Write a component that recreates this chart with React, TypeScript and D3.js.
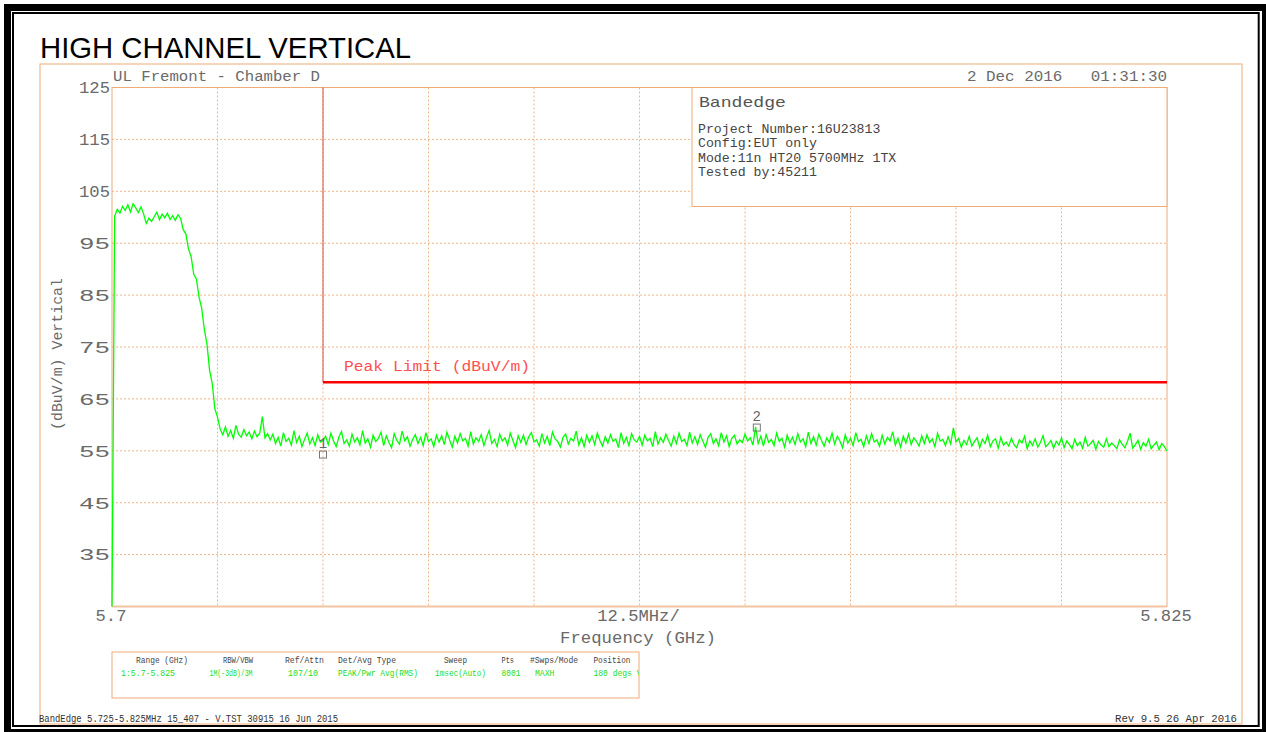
import React from "react";
import * as d3 from "d3";

// ---------- data ----------
const TITLE = "HIGH CHANNEL VERTICAL";
const F_START = 5.7;
const F_STOP = 5.825;
const REF_TOP = 125;
const REF_BOTTOM = 25;
const yTickValues = [125, 115, 105, 95, 85, 75, 65, 55, 45, 35];
const xDivisions = 10;
const xTickLabels = [
  { f: 5.7, text: "5.7" },
  { f: 5.7625, text: "12.5MHz/" },
  { f: 5.825, text: "5.825" },
];
const limitDb = 68.2;
const limitStartF = 5.725;
const limitLabel = "Peak Limit (dBuV/m)";
const markers = [
  { id: "1", f: 5.725, db: 53.6 },
  { id: "2", f: 5.7764, db: 58.8 },
];
const headerLeft = "UL Fremont - Chamber D";
const headerRight = "2 Dec 2016   01:31:30";
const xAxisTitle = "Frequency (GHz)";
const yAxisTitle = "(dBuV/m) Vertical";
const infoTitle = "Bandedge";
const infoLines = [
  "Project Number:16U23813",
  "Config:EUT only",
  "Mode:11n HT20 5700MHz 1TX",
  "Tested by:45211",
];
const legendHeaders = ["Range (GHz)", "RBW/VBW", "Ref/Attn", "Det/Avg Type", "Sweep", "Pts", "#Swps/Mode", "Position"];
const legendValues = ["1:5.7-5.825", "1M(-3dB)/3M", "107/10", "PEAK/Pwr Avg(RMS)", "1msec(Auto)", "8001", "MAXH", "180 degs V"];
const footerLeft = "BandEdge 5.725-5.825MHz 15_407 - V.TST 30915 16 Jun 2015";
const footerRight = "Rev 9.5 26 Apr 2016";

// trace amplitude (dBuV/m), evenly spaced sweep points from F_START to F_STOP
const traceDb = [
  25,
  100.2, 101.5, 100.8, 102.1, 101.3, 102.4, 101.0, 102.6, 101.8, 100.9, 102.0, 100.6, 98.8, 99.8, 99.2, 100.1, 101.0, 99.5, 100.6, 99.9, 100.8, 99.6, 100.3, 99.4, 100.5,
  99.8, 97.6, 96.8, 93.9, 92.4, 89.0, 88.1, 84.6, 82.5, 78.4, 75.6, 70.5, 68.0, 63.1, 61.5, 59.2,
  58.1, 59.6, 57.8, 58.9, 57.4, 59.9, 58.2, 57.6, 59.1, 57.9, 58.6, 57.3, 58.8, 57.7, 58.4, 61.6, 57.5, 58.3, 57.1,
  58.2, 56.4, 57.6, 55.9, 58.5, 56.8, 57.4, 56.1, 58.9, 56.6, 57.8, 55.8, 57.2, 58.4, 56.3, 57.5, 56.0, 58.1, 56.7, 57.0,
  57.8, 56.2, 58.4, 56.9, 55.8, 57.6, 58.7, 56.4, 57.1, 55.9, 58.2, 56.7, 57.5, 56.1, 58.9, 56.5, 57.3, 55.7, 58.0, 56.8,
  57.4, 58.6, 56.0, 57.9, 56.6, 55.6, 58.3, 57.0, 56.3, 58.8, 56.9, 57.7, 55.9, 57.2, 58.1, 56.4, 57.6, 56.0, 58.5, 56.8,
  57.3, 55.8, 58.0, 56.7, 57.9, 56.2, 58.6, 57.1, 55.7, 57.8, 56.5, 58.3, 56.9, 57.4, 55.9, 58.7, 56.3, 57.5, 56.8, 58.1,
  56.0, 57.6, 58.9, 56.4, 57.2, 55.8, 58.2, 56.9, 57.5, 56.1, 58.4, 57.0, 55.6, 57.9, 56.6, 58.0, 56.2, 57.7, 58.5, 56.7,
  57.1, 55.9, 58.3, 56.5, 57.8, 56.0, 58.6, 57.3, 56.8, 55.7, 57.6, 58.2, 56.3, 57.4, 56.9, 58.8, 56.1, 57.5, 55.8, 58.0,
  56.6, 57.9, 56.2, 58.4, 57.0, 55.9, 57.7, 56.5, 58.1, 56.8, 57.3, 55.6, 58.5, 56.4, 57.6, 56.0, 58.3, 57.1, 56.7, 57.8,
  56.1, 58.0, 56.9, 57.4, 55.8, 58.7, 56.3, 57.5, 56.6, 58.2, 57.0, 55.9, 57.8, 56.4, 58.4, 56.8, 57.2, 56.0, 58.6, 56.5,
  57.7, 56.2, 58.1, 56.9, 55.7, 57.6, 58.3, 56.4, 57.3, 56.0, 58.5, 56.7, 57.9, 55.8, 57.4, 58.0, 56.3, 57.1, 56.6, 58.2,
  56.9, 57.5, 56.1, 59.6, 56.4, 57.8, 55.9, 58.1, 56.6, 57.2, 56.0, 58.4, 56.8, 57.4, 55.7, 58.0, 56.5, 57.6, 56.2, 58.3,
  56.7, 57.3, 55.8, 58.6, 56.4, 57.7, 56.1, 58.2, 57.0, 55.9, 57.5, 56.6, 58.4, 56.3, 57.8, 56.9, 55.6, 58.1, 56.5, 57.4,
  56.0, 58.5, 56.8, 57.2, 55.8, 57.9, 56.4, 58.3, 56.7, 57.1, 55.9, 58.0, 56.3, 57.6, 56.9, 58.7, 56.1, 57.4, 55.7, 57.8,
  56.5, 58.2, 56.2, 57.5, 56.8, 55.9, 57.9, 56.4, 58.1, 56.6, 57.3, 55.8, 58.4, 56.9, 57.2, 56.0, 57.7, 56.3, 59.4, 56.7,
  57.4, 55.7, 57.0, 56.2, 57.8, 55.9, 56.8, 57.5, 55.6, 57.2, 56.4, 58.0, 55.8, 56.9, 57.3, 55.5, 57.6, 56.1, 56.7, 55.9,
  57.4, 56.2, 55.6, 57.1, 56.5, 57.8, 55.4, 56.9, 56.0, 57.3, 55.7, 56.6, 57.9, 55.8, 56.3, 57.0, 55.5, 56.8, 56.1, 57.5,
  55.6, 56.9, 56.2, 55.4, 57.2, 56.0, 56.7, 55.5, 57.6, 55.9, 56.4, 57.0, 55.3, 56.8, 56.1, 55.7, 57.3, 55.8, 56.5, 56.0,
  55.4, 57.1, 56.3, 55.6, 56.8, 58.4, 55.5, 56.2, 57.0, 55.3, 56.6, 55.9, 57.2, 55.4, 56.1, 56.7, 55.2, 56.4, 55.8, 55.0,
];

// ---------- layout ----------
const W = 1266;
const H = 732;
const plot = { left: 112, right: 1167, top: 87.5, bottom: 606.5 };
const ORANGE = "#efab78";
const GRID = "#f0b48a";
const GREY = "#6a6a6a";
const MONO = "'Liberation Mono', 'DejaVu Sans Mono', monospace";
const legendLayout = [
  { hx: 136, hw: 52, vx: 121, vw: 54 },
  { hx: 223, hw: 30, vx: 209.5, vw: 43 },
  { hx: 285, hw: 39, vx: 288, vw: 30 },
  { hx: 338, hw: 58, vx: 338, vw: 80 },
  { hx: 444, hw: 23, vx: 435, vw: 51 },
  { hx: 501.5, hw: 12.5, vx: 501.5, vw: 19 },
  { hx: 530, hw: 48, vx: 535, vw: 19.5 },
  { hx: 593.5, hw: 37, vx: 593.5, vw: 48 },
];

export default function App() {
  const x = d3.scaleLinear().domain([F_START, F_STOP]).range([plot.left, plot.right]);
  const y = d3.scaleLinear().domain([REF_BOTTOM, REF_TOP]).range([plot.bottom, plot.top]);
  const step = (F_STOP - F_START) / (traceDb.length - 1);
  const line = d3
    .line<number>()
    .x((_, i) => x(F_START + i * step))
    .y((d) => y(d));
  const gridF = d3.range(1, xDivisions).map((i) => F_START + (i * (F_STOP - F_START)) / xDivisions);
  const gridDb = yTickValues.filter((v) => v > REF_BOTTOM && v < REF_TOP);

  return (
    <svg
      width={W}
      height={H}
      viewBox={`0 0 ${W} ${H}`}
      style={{ position: "absolute", left: 0, top: 0, background: "#fff" }}
    >
      <defs>
        <clipPath id="legendClip">
          <rect x={112} y={652} width={527} height={46} />
        </clipPath>
      </defs>
      {/* outer frames */}
      <rect x={7.5} y={7.5} width={1258} height={725} fill="none" stroke="#000" strokeWidth={7} />
      <rect x={13} y={13} width={1245.7} height={713} fill="none" stroke="#000" strokeWidth={2} />

      {/* title */}
      <text x={40} y={57.5} fontFamily="'Liberation Sans', Arial, sans-serif" fontSize={30} fill="#000" textLength={371} lengthAdjust="spacingAndGlyphs">
        {TITLE}
      </text>

      {/* orange page frame */}
      <rect x={40} y={64} width={1202} height={660} fill="none" stroke={ORANGE} strokeWidth={1} />

      {/* grid */}
      {gridF.map((f, i) => (
        <line key={"gx" + i} x1={x(f)} x2={x(f)} y1={plot.top} y2={plot.bottom} stroke={GRID} strokeWidth={1} strokeDasharray="2,2" />
      ))}
      {gridDb.map((v) => (
        <line key={"gy" + v} x1={plot.left} x2={plot.right} y1={y(v)} y2={y(v)} stroke={GRID} strokeWidth={1} strokeDasharray="2,2" />
      ))}

      {/* plot frame */}
      <rect x={plot.left} y={plot.top} width={plot.right - plot.left} height={plot.bottom - plot.top} fill="none" stroke={ORANGE} strokeWidth={1} />
      <line x1={plot.left} x2={plot.right} y1={plot.bottom} y2={plot.bottom} stroke="#f3c4a2" strokeWidth={2} />

      {/* info box */}
      <rect x={692} y={plot.top} width={plot.right - 692} height={119} fill="#fff" stroke={ORANGE} strokeWidth={1} />
      <text x={699} y={107} fontFamily={MONO} fontSize={15} fill="#555" textLength={87} lengthAdjust="spacingAndGlyphs">
        {infoTitle}
      </text>
      {infoLines.map((t, i) => (
        <text key={t} x={698} y={133.3 + i * 14.1} fontFamily={MONO} fontSize={13.2} fill="#444" textLength={t.length * 7.93} lengthAdjust="spacingAndGlyphs">
          {t}
        </text>
      ))}

      {/* header texts */}
      <text x={113} y={80.7} fontFamily={MONO} fontSize={14} fill={GREY} textLength={207} lengthAdjust="spacingAndGlyphs">
        {headerLeft}
      </text>
      <text x={967} y={80.7} fontFamily={MONO} fontSize={14} fill={GREY} textLength={200} lengthAdjust="spacingAndGlyphs" xmlSpace="preserve" style={{ whiteSpace: "pre" }}>
        {headerRight}
      </text>

      {/* y tick labels */}
      {yTickValues.map((v) => (
        <text key={"yt" + v} x={110} y={y(v) + 5.8} textAnchor="end" fontFamily={MONO} fontSize={16.5} fill={GREY} textLength={31} lengthAdjust="spacingAndGlyphs">
          {v}
        </text>
      ))}
      {/* x tick labels */}
      {xTickLabels.map((d) => (
        <text key={d.text} x={x(d.f) - 1} y={620.8} textAnchor="middle" fontFamily={MONO} fontSize={16.5} fill={GREY} textLength={d.text.length * 10.3} lengthAdjust="spacingAndGlyphs">
          {d.text}
        </text>
      ))}
      <text x={638} y={643} textAnchor="middle" fontFamily={MONO} fontSize={16.5} fill={GREY} textLength={156} lengthAdjust="spacingAndGlyphs">
        {xAxisTitle}
      </text>
      <text transform="translate(62,354) rotate(-90)" x={0} y={0} textAnchor="middle" fontFamily={MONO} fontSize={14.5} fill={GREY} textLength={152} lengthAdjust="spacingAndGlyphs">
        {yAxisTitle}
      </text>

      {/* limit */}
      <line x1={x(limitStartF)} x2={x(limitStartF)} y1={plot.top} y2={y(limitDb)} stroke="#d84a4a" strokeWidth={1} />
      <line x1={x(limitStartF)} x2={plot.right} y1={y(limitDb)} y2={y(limitDb)} stroke="#ff0000" strokeWidth={2.5} />
      <text x={344} y={370.7} fontFamily={MONO} fontSize={15.5} fill="#ff5050" textLength={186} lengthAdjust="spacingAndGlyphs">
        {limitLabel}
      </text>

      {/* trace */}
      <path d={line(traceDb) || ""} fill="none" stroke="#00ff00" strokeWidth={1.3} strokeLinejoin="miter" />

      {/* markers */}
      {markers.map((m) => (
        <g key={m.id}>
          <rect x={x(m.f) - 3.5} y={y(m.db) - 7} width={7} height={7} fill="none" stroke="#777" strokeWidth={1} />
          <text x={x(m.f)} y={y(m.db) - 10} textAnchor="middle" fontFamily={MONO} fontSize={14} fill="#666">
            {m.id}
          </text>
        </g>
      ))}

      {/* legend box */}
      <rect x={112} y={652} width={527} height={46} fill="none" stroke={ORANGE} strokeWidth={1} />
      <g clipPath="url(#legendClip)">
        {legendHeaders.map((t, i) => (
          <text key={"lh" + i} x={legendLayout[i].hx} y={663} fontFamily={MONO} fontSize={9.5} fill="#444" textLength={legendLayout[i].hw} lengthAdjust="spacingAndGlyphs">
            {t}
          </text>
        ))}
        {legendValues.map((t, i) => (
          <text key={"lv" + i} x={legendLayout[i].vx} y={675.5} fontFamily={MONO} fontSize={9.5} fill="#22dd22" textLength={legendLayout[i].vw} lengthAdjust="spacingAndGlyphs">
            {t}
          </text>
        ))}
      </g>

      {/* footer */}
      <text x={39} y={722} fontFamily={MONO} fontSize={10} fill="#333" textLength={299} lengthAdjust="spacingAndGlyphs">
        {footerLeft}
      </text>
      <text x={1237} y={722} textAnchor="end" fontFamily={MONO} fontSize={10} fill="#333" textLength={122} lengthAdjust="spacingAndGlyphs">
        {footerRight}
      </text>
    </svg>
  );
}
